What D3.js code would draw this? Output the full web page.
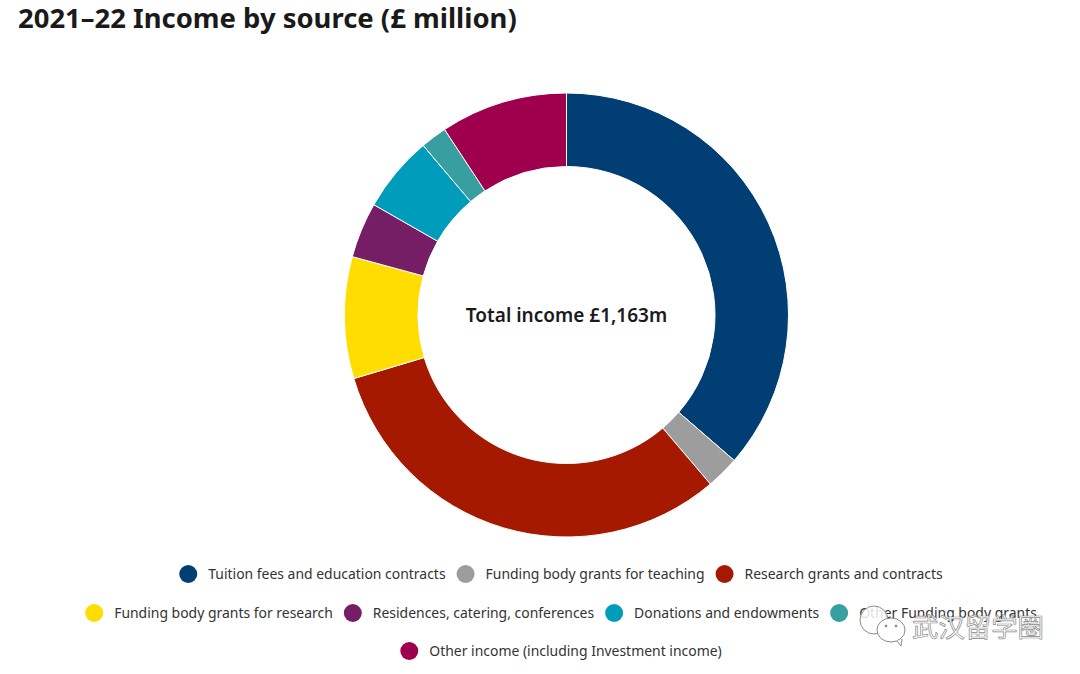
<!DOCTYPE html>
<html><head><meta charset="utf-8">
<script src="https://cdn.jsdelivr.net/npm/d3@7"></script>
<style>html,body{margin:0;padding:0;background:#fff}svg{display:block}</style>
</head><body><svg id="c" width="1080" height="674"></svg>
<script>
const categories=["Tuition fees and education contracts","Funding body grants for teaching","Research grants and contracts","Funding body grants for research","Residences, catering, conferences","Donations and endowments","Other Funding body grants","Other income (including Investment income)"];
const values=[423,28,367.5,103,47,64.6,22.3,107.6];
const colors=["#003e74","#9d9d9d","#a51900","#ffdd00","#751e66","#009cbc","#379f9f","#9f004e"];
const legendRows=[[0,1,2],[3,4,5,6],[7]];
const titleText="2021–22 Income by source (£ million)";
const centerText="Total income £1,163m";
const watermarkText="武汉留学圈";
const FONT="'Noto Sans',sans-serif";

const svg=d3.select("#c");
svg.append("text").attr("x",18).attr("y",27.5).attr("font-family",FONT).attr("font-weight",700)
  .attr("font-size",27.45).attr("fill","#1a1a1a").text(titleText);

const cx=566.5,cy=315,R=222,r=148.5;
const pie=d3.pie().sort(null).value(d=>d);
const arc=d3.arc().innerRadius(r).outerRadius(R);
const g=svg.append("g").attr("transform",`translate(${cx},${cy})`);
g.selectAll("path").data(pie(values)).join("path").attr("d",arc)
  .attr("fill",(d,i)=>colors[i]).attr("stroke","#fff").attr("stroke-width",1);
g.append("text").attr("text-anchor","middle").attr("y",7).attr("font-family",FONT)
  .attr("font-weight",600).attr("font-size",19).attr("fill","#1a1a1a").text(centerText);

const rowY=[574,613,651];
legendRows.forEach((row,ri)=>{
  const rg=svg.append("g");
  let x=0;
  row.forEach(i=>{
    const it=rg.append("g").attr("transform",`translate(${x},${rowY[ri]})`);
    it.append("circle").attr("cx",9).attr("r",9).attr("fill",colors[i]);
    const t=it.append("text").attr("x",29).attr("y",5).attr("font-family",FONT)
      .attr("font-size",13.95).attr("fill","#333").text(categories[i]);
    x+=29+t.node().getComputedTextLength()+11;
  });
  rg.attr("transform",`translate(${561-(x-11)/2},0)`);
});

// watermark overlay
const wm=svg.append("g").attr("fill","none").attr("stroke","#8a8a8a").attr("stroke-width",1);
wm.append("ellipse").attr("cx",874).attr("cy",620).attr("rx",14).attr("ry",14).attr("fill","rgba(255,255,255,.85)");
wm.append("ellipse").attr("cx",891).attr("cy",630).attr("rx",14).attr("ry",12).attr("fill","#fff");
wm.append("path").attr("d","M897 641 L901 646 L902 639").attr("fill","#fff");
wm.selectAll("circle").data([[886,626],[896,626]]).join("circle").attr("cx",d=>d[0]).attr("cy",d=>d[1]).attr("r",1).attr("fill","#8a8a8a");
svg.append("text").attr("x",912).attr("y",637).attr("font-family","'Noto Sans CJK SC'").attr("font-size",26.4)
  .attr("fill","#fff").attr("stroke","#8a8a8a").attr("stroke-width",.7).text(watermarkText);
</script></body></html>
